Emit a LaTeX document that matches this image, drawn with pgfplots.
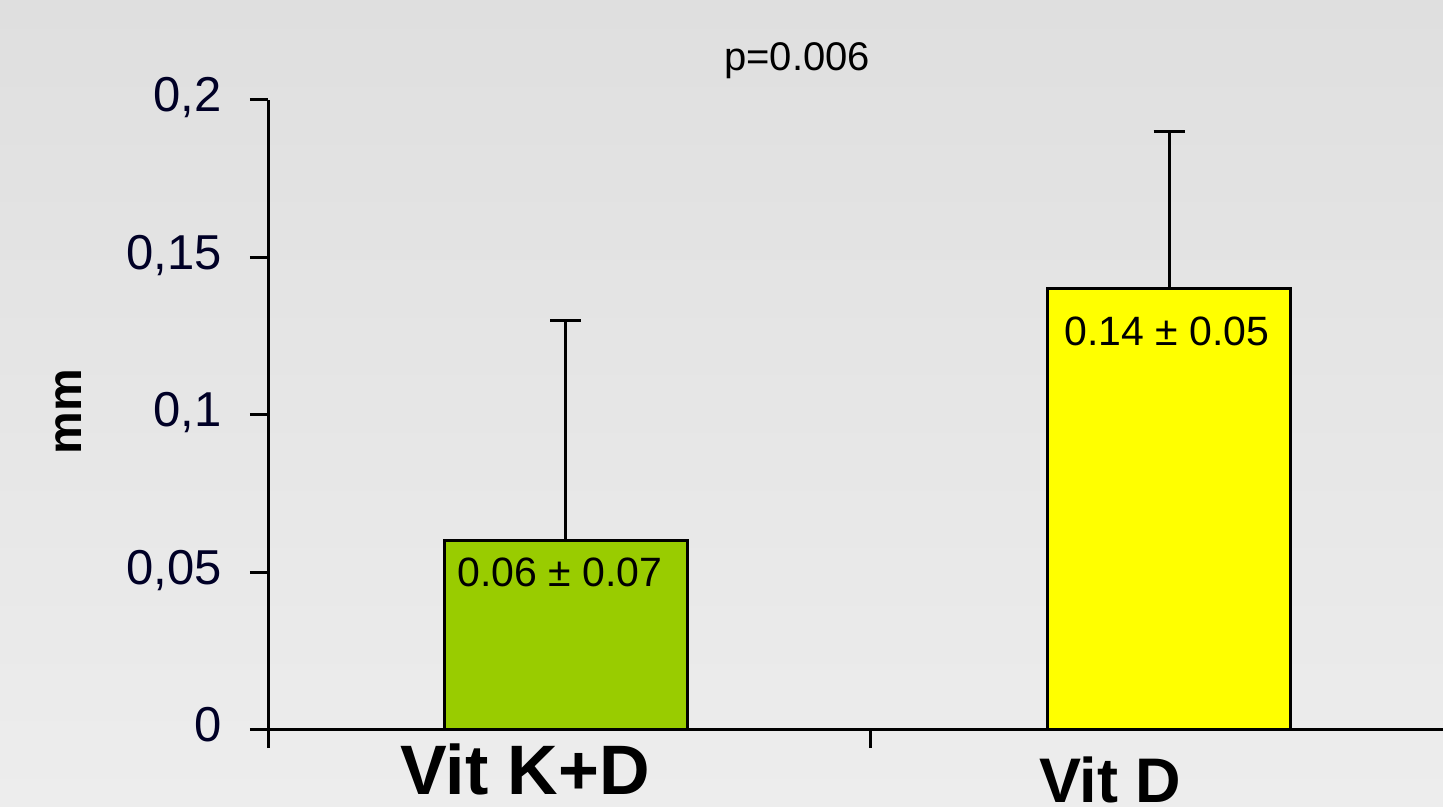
\documentclass[border=0pt]{standalone}
\usepackage{pgfplots}
\pgfplotsset{compat=1.18}
\usepackage{fontspec}
\setmainfont{Liberation Sans}
\definecolor{kgreen}{HTML}{99CC00}
\definecolor{kyellow}{HTML}{FFFF00}
\definecolor{bgtop}{RGB}{223,223,223}
\definecolor{bgbot}{RGB}{237,237,237}
\begin{document}
\begin{tikzpicture}
\path[use as bounding box] (0,0) rectangle (721.5pt,403.5pt);
\clip (0,0) rectangle (721.5pt,403.5pt);
\shade[top color=bgtop, bottom color=bgbot] (0,0) rectangle (721.5pt,403.5pt);
\begin{axis}[
  at={(134pt,38.5pt)}, anchor=south west,
  scale only axis, width=602pt, height=315pt,
  xmin=0, xmax=2, ymin=0, ymax=0.2,
  clip=false,
  axis x line=bottom, axis y line=left,
  axis line style={-, line width=1.5pt, black},
  tick style={line width=1.5pt, black},
  major tick length=9pt, tick align=outside,
  xtick={0,1,2}, xticklabels={},
  ytick={0,0.05,0.1,0.15,0.2},
  yticklabel style={font=\fontsize{24.5}{30}\selectfont, anchor=base east, inner sep=0pt, xshift=-14pt, yshift=-6pt, text=black!85!blue,
    /pgf/number format/.cd, use comma, fixed, precision=2, assume math mode=true},
  ybar, bar width=0.4037,
]
\addplot[ybar, bar shift=0pt, fill=kgreen, draw=black, line width=1.5pt,
  error bars/.cd, y dir=plus, y explicit,
  error bar style={line width=1.5pt, black},
  error mark options={line width=1.5pt, black, mark size=7.75pt, rotate=90}]
  coordinates {(0.495,0.06) +- (0,0.07)};
\addplot[ybar, bar shift=0pt, fill=kyellow, draw=black, line width=1.5pt,
  error bars/.cd, y dir=plus, y explicit,
  error bar style={line width=1.5pt, black},
  error mark options={line width=1.5pt, black, mark size=7.75pt, rotate=90}]
  coordinates {(1.497,0.14) +- (0,0.05)};
\node[anchor=base, font=\fontsize{20.5}{24}\selectfont, inner sep=0pt] at (axis cs:0.485,0.06) [yshift=-23pt] {0.06 ± 0.07};
\node[anchor=base, font=\fontsize{20.5}{24}\selectfont, inner sep=0pt] at (axis cs:1.493,0.14) [yshift=-28.5pt] {0.14 ± 0.05};
\node[anchor=base, font=\fontsize{20}{24}\selectfont, inner sep=0pt] at (axis cs:0.879,0.2095) {p=0.006};
\node[anchor=base, font=\bfseries\fontsize{35}{40}\selectfont, inner sep=0pt] at (axis cs:0.427,-0.0206) {Vit K+D};
\node[anchor=base, font=\bfseries\fontsize{31.5}{36}\selectfont, inner sep=0pt] at (axis cs:1.399,-0.0229) {Vit D};
\node[rotate=90, anchor=center, font=\bfseries\fontsize{24}{28}\selectfont, inner sep=0pt] at (axis cs:-0.3306,0.101) {mm};
\end{axis}
\end{tikzpicture}
\end{document}
